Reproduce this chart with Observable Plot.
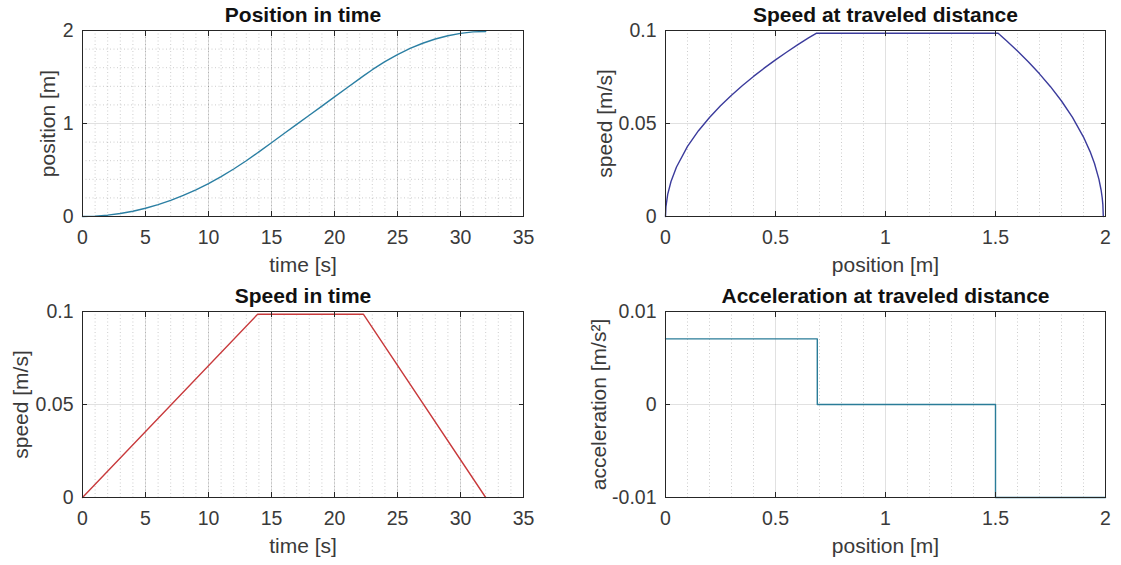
<!DOCTYPE html>
<html>
<head>
<meta charset="utf-8">
<script src="https://cdn.jsdelivr.net/npm/d3@7"></script>
<script src="https://cdn.jsdelivr.net/npm/@observablehq/plot@0.6"></script>
<style>
  html, body { margin: 0; padding: 0; background: #fff; }
  #fig { position: relative; width: 1121px; height: 565px; background: #fff; font-family: "Liberation Sans", Arial, sans-serif; }
  #fig > div { position: absolute; }
  svg { overflow: visible; }
</style>
</head>
<body>
<div id="fig">
  <div id="p1" style="left:0px;top:0px"></div>
  <div id="p2" style="left:560px;top:0px"></div>
  <div id="p3" style="left:0px;top:280px"></div>
  <div id="p4" style="left:560px;top:280px"></div>
</div>
<script>
// ---- data ----
const posTime = [0, 1, 2, 3, 4, 5, 6, 7, 8, 9, 10, 11, 12, 13, 13.9, 14, 15, 16, 17, 18, 19, 20, 21, 22, 22.3, 23, 24, 25, 26, 27, 28, 29, 30, 31, 32];
const posValue = [0, 0.0035, 0.0142, 0.0319, 0.0567, 0.0886, 0.1276, 0.1737, 0.2269, 0.2871, 0.3545, 0.4289, 0.5105, 0.5991, 0.685, 0.6949, 0.7934, 0.8919, 0.9904, 1.0889, 1.1874, 1.2859, 1.3844, 1.4829, 1.512, 1.5785, 1.6648, 1.7409, 1.807, 1.8628, 1.9086, 1.9441, 1.9696, 1.9848, 1.990];

const distPos = [0, 0.002, 0.01, 0.025, 0.05, 0.1, 0.15, 0.2, 0.25, 0.3, 0.35, 0.4, 0.45, 0.5, 0.55, 0.6, 0.65, 0.685, 1.512, 1.55, 1.6, 1.65, 1.7, 1.75, 1.8, 1.85, 1.9, 1.93, 1.95, 1.97, 1.98, 1.985, 1.988, 1.99];
const distSpeed = [0, 0.00533, 0.0119, 0.01883, 0.02663, 0.03766, 0.04612, 0.05325, 0.05954, 0.06522, 0.07045, 0.07531, 0.07988, 0.0842, 0.08831, 0.09224, 0.0960, 0.0985, 0.0985, 0.0945, 0.0890, 0.0831, 0.0767, 0.0698, 0.0621, 0.0533, 0.0427, 0.0349, 0.0285, 0.0201, 0.01425, 0.01007, 0.00637, 0];

const speedTime = [0, 13.9, 22.3, 32.0];
const speedValue = [0, 0.0985, 0.0985, 0];

const accPos = [0, 0.69, 1.5, 2];
const accValue = [0.00706, 0, -0.01, -0.01];

// ---- tick values ----
const ticksTime = [0, 5, 10, 15, 20, 25, 30, 35];
const minorTime = d3.range(0, 36, 1);
const ticksPos = [0, 1, 2];
const minorPos = [0.2, 0.4, 0.6, 0.8, 1.2, 1.4, 1.6, 1.8];
const ticksDist = [0, 0.5, 1, 1.5, 2];
const minorDist = [0.1, 0.2, 0.3, 0.4, 0.6, 0.7, 0.8, 0.9, 1.1, 1.2, 1.3, 1.4, 1.6, 1.7, 1.8, 1.9];
const ticksSpeed = [0, 0.05, 0.1];
const ticksAcc = [-0.01, 0, 0.01];

const INK = "#262626";
const TXT = "#3a3a3a";

function chart({data, curve = "linear", color, xDomain, yDomain, xTicks, yTicks, xMinor, yMinor,
                title, xLabel, yLabel, yLabelDx, width, height, margins}) {
  const fmt = d => String(d);
  const marks = [];
  if (xMinor) marks.push(Plot.gridX(xMinor, {stroke: "#000", strokeOpacity: 0.25, strokeDasharray: "1,2.5", strokeWidth: 0.8}));
  if (yMinor) marks.push(Plot.gridY(yMinor, {stroke: "#000", strokeOpacity: 0.25, strokeDasharray: "1,2.5", strokeWidth: 0.8}));
  marks.push(Plot.gridX(xTicks, {stroke: "#000", strokeOpacity: 0.15, strokeWidth: 0.8}));
  marks.push(Plot.gridY(yTicks, {stroke: "#000", strokeOpacity: 0.15, strokeWidth: 0.8}));
  marks.push(Plot.line(data, {x: "x", y: "y", stroke: color, strokeWidth: 1.4, curve}));
  // tick labels
  marks.push(Plot.axisX(xTicks, {tickSize: 0, tickPadding: 14, tickFormat: fmt, fontSize: 19.5, color: TXT, label: null}));
  marks.push(Plot.axisY(yTicks, {tickSize: 0, tickPadding: 9, tickFormat: fmt, fontSize: 19.5, color: TXT, label: null}));
  // inward ticks on all four sides
  marks.push(Plot.axisX(xTicks, {anchor: "bottom", tickSize: 5, dy: -5, fill: "none", stroke: INK, label: null}));
  marks.push(Plot.axisX(xTicks, {anchor: "top", tickSize: 5, dy: 5, fill: "none", stroke: INK, label: null}));
  marks.push(Plot.axisY(yTicks, {anchor: "left", tickSize: 5, dx: 5, fill: "none", stroke: INK, label: null}));
  marks.push(Plot.axisY(yTicks, {anchor: "right", tickSize: 5, dx: -5, fill: "none", stroke: INK, label: null}));
  marks.push(Plot.frame({stroke: INK, strokeWidth: 1}));
  // title and axis labels
  marks.push(Plot.text([title], {frameAnchor: "top", dy: -15, lineAnchor: "middle", textAnchor: "middle", fontSize: 21, fontWeight: "bold", fill: "#111"}));
  marks.push(Plot.text([xLabel], {frameAnchor: "bottom", dy: 49, lineAnchor: "middle", textAnchor: "middle", fontSize: 21, fill: TXT}));
  marks.push(Plot.text([yLabel], {frameAnchor: "left", dx: -yLabelDx, rotate: -90, lineAnchor: "middle", textAnchor: "middle", fontSize: 21, fill: TXT}));
  return Plot.plot({
    width, height,
    marginLeft: margins[0], marginRight: margins[1], marginTop: margins[2], marginBottom: margins[3],
    style: {fontFamily: '"Liberation Sans", Arial, sans-serif', background: "white", overflow: "visible"},
    x: {domain: xDomain, axis: null},
    y: {domain: yDomain, axis: null},
    marks
  });
}

const d1 = posTime.map((t, i) => ({x: t, y: posValue[i]}));
const d2 = distPos.map((p, i) => ({x: p, y: distSpeed[i]}));
const d3s = speedTime.map((t, i) => ({x: t, y: speedValue[i]}));
const d4 = accPos.map((p, i) => ({x: p, y: accValue[i]}));

document.getElementById("p1").append(chart({
  data: d1, color: "#2b7fa3", xDomain: [0, 35], yDomain: [0, 2], xTicks: ticksTime, yTicks: ticksPos,
  xMinor: minorTime, yMinor: minorPos, title: "Position in time", xLabel: "time [s]", yLabel: "position [m]",
  yLabelDx: 34, width: 560, height: 280, margins: [82, 37, 30, 64]
}));
document.getElementById("p2").append(chart({
  data: d2, color: "#3b3b9c", xDomain: [0, 2], yDomain: [0, 0.1], xTicks: ticksDist, yTicks: ticksSpeed,
  xMinor: minorDist, title: "Speed at traveled distance", xLabel: "position [m]", yLabel: "speed [m/s]",
  yLabelDx: 60, width: 561, height: 280, margins: [105, 16, 30, 64]
}));
document.getElementById("p3").append(chart({
  data: d3s, color: "#c83a3c", xDomain: [0, 35], yDomain: [0, 0.1], xTicks: ticksTime, yTicks: ticksSpeed,
  xMinor: minorTime, title: "Speed in time", xLabel: "time [s]", yLabel: "speed [m/s]",
  yLabelDx: 61, width: 560, height: 285, margins: [82, 37, 31, 68]
}));
document.getElementById("p4").append(chart({
  data: d4, curve: "step-after", color: "#2a7c98", xDomain: [0, 2], yDomain: [-0.01, 0.01], xTicks: ticksDist, yTicks: ticksAcc,
  xMinor: minorDist, title: "Acceleration at traveled distance", xLabel: "position [m]", yLabel: "acceleration [m/s²]",
  yLabelDx: 66, width: 561, height: 285, margins: [105, 16, 31, 68]
}));
</script>
</body>
</html>
